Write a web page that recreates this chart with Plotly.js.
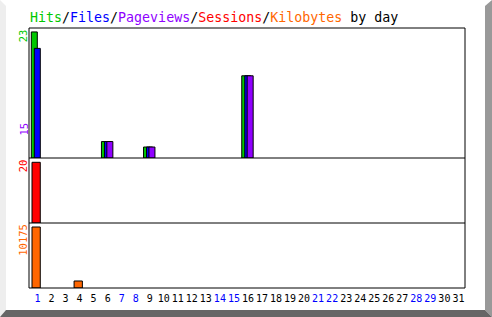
<!DOCTYPE html>
<html>
<head>
<meta charset="utf-8">
<script src="https://cdn.plot.ly/plotly-3.0.1.min.js"></script>
<style>html,body{margin:0;padding:0;background:#fff;}#chart{width:492px;height:317px;}</style>
</head>
<body>
<div id="chart"></div>
<script>
// ---- data ----
const days = [1,2,3,4,5,6,7,8,9,10,11,12,13,14,15,16,17,18,19,20,21,22,23,24,25,26,27,28,29,30,31];
const weekendDays = [1,7,8,14,15,21,22,28,29];
const hits      = [23,0,0,0,0,3,0,0,2,0,0,0,0,0,0,15,0,0,0,0,0,0,0,0,0,0,0,0,0,0,0];
const files     = [20,0,0,0,0,3,0,0,2,0,0,0,0,0,0,15,0,0,0,0,0,0,0,0,0,0,0,0,0,0,0];
const pageviews = [0,0,0,0,0,3,0,0,2,0,0,0,0,0,0,15,0,0,0,0,0,0,0,0,0,0,0,0,0,0,0];
const sessions  = [20,0,0,0,0,0,0,0,0,0,0,0,0,0,0,0,0,0,0,0,0,0,0,0,0,0,0,0,0,0,0];
const kilobytes = [10175,0,0,1170,0,0,0,0,0,0,0,0,0,0,0,0,0,0,0,0,0,0,0,0,0,0,0,0,0,0,0];

// ---- style ----
const C = {hits:'#00c800', files:'#0000ff', pages:'#9000ff', sessions:'#ff0000', kb:'#ff6600'};
const MONO = 'DejaVu Sans Mono, Liberation Mono, monospace';
const W = 492, H = 317, L = 29, R = 465, T = 28, B = 288;
const px = x => (x - L) / (R - L);
const py = y => (B - y) / (B - T);

const max = a => Math.max.apply(null, a);
const line = {color:'#000', width:1};

function bar(y, color, axis, offset, width) {
  return {type:'bar', x:days, y:y.map(v => v > 0 ? v : null), yaxis:axis, offset:offset, width:width,
          marker:{color:color, line:line}, hoverinfo:'skip'};
}

const traces = [
  bar(hits, C.hits, 'y', -0.442, 0.428),
  bar(files, C.files, 'y', -0.228, 0.428),
  bar(pageviews, C.pages, 'y', -0.057, 0.428),
  bar(sessions, C.sessions, 'y2', -0.392, 0.59),
  bar(kilobytes, C.kb, 'y3', -0.392, 0.59)
];

const tickText = days.map(d => weekendDays.indexOf(d) >= 0
  ? '<span style="color:#0000ff">' + d + '</span>' : String(d));

const yax = (dom, top) => ({domain:dom, range:[0, top], showgrid:false, zeroline:false,
  showticklabels:false, ticks:'', showline:false, fixedrange:true});

const hitsMax = max(hits), pagesMax = max(pageviews), sessMax = max(sessions), kbMax = max(kilobytes);

const border = [
  {type:'path', path:`M ${px(0)} ${py(0)} L ${px(6)} ${py(6)} L ${px(6)} ${py(310)} L ${px(0)} ${py(317)} Z`,
   xref:'paper', yref:'paper', fillcolor:'#eeeeee', line:{width:0}},
  {type:'path', path:`M ${px(485)} ${py(6)} L ${px(492)} ${py(0)} L ${px(492)} ${py(317)} L ${px(485)} ${py(310)} Z`,
   xref:'paper', yref:'paper', fillcolor:'#999999', line:{width:0}},
  {type:'path', path:`M ${px(0)} ${py(317)} L ${px(6)} ${py(310)} L ${px(485)} ${py(310)} L ${px(492)} ${py(317)} Z`,
   xref:'paper', yref:'paper', fillcolor:'#666666', line:{width:0}},
  {type:'rect', xref:'paper', yref:'paper', x0:0, x1:1, y0:0, y1:1, line:line, layer:'above'},
  {type:'line', xref:'paper', yref:'paper', x0:0, x1:1, y0:0.5, y1:0.5, line:line, layer:'above'},
  {type:'line', xref:'paper', yref:'paper', x0:0, x1:1, y0:0.25, y1:0.25, line:line, layer:'above'}
];

const lab = (text, color, yPix) => ({text:String(text), xref:'paper', yref:'paper',
  x:px(23), y:py(yPix), xanchor:'center', yanchor:'middle', textangle:-90, showarrow:false,
  font:{family:MONO, size:10.5, color:color}});

const title = '<span style="color:' + C.hits + '">Hits</span>/' +
  '<span style="color:' + C.files + '">Files</span>/' +
  '<span style="color:' + C.pages + '">Pageviews</span>/' +
  '<span style="color:' + C.sessions + '">Sessions</span>/' +
  '<span style="color:' + C.kb + '">Kilobytes</span> by day';

const layout = {
  width:W, height:H,
  margin:{l:L, r:W-R, t:T, b:H-B, pad:0},
  paper_bgcolor:'#ffffff', plot_bgcolor:'#ffffff',
  showlegend:false, barmode:'overlay', bargap:0,
  font:{family:MONO, size:10, color:'#000'},
  xaxis:{anchor:'y3', range:[0.394, 31.47], tickvals:days, ticktext:tickText, ticks:'', showgrid:false,
         zeroline:false, showline:false, tickangle:0, fixedrange:true, ticklabelstandoff:3,
         tickfont:{family:MONO, size:10, color:'#000'}},
  yaxis: yax([0.5, 1], 23.72),
  yaxis2: yax([0.25, 0.5], 21.42),
  yaxis3: yax([0, 0.25], 10842),
  shapes:border,
  annotations:[
    {text:title, xref:'paper', yref:'paper', x:px(28), y:py(17.5), xanchor:'left', yanchor:'middle',
     showarrow:false, font:{family:MONO, size:13.3, color:'#000'}},
    lab(hitsMax, C.hits, 36.2),
    lab(pagesMax, C.pages, 129.5),
    lab(sessMax, C.sessions, 166.3),
    lab(kbMax, C.kb, 239.7)
  ]
};

Plotly.newPlot('chart', traces, layout, {staticPlot:true, displayModeBar:false});
</script>
</body>
</html>
